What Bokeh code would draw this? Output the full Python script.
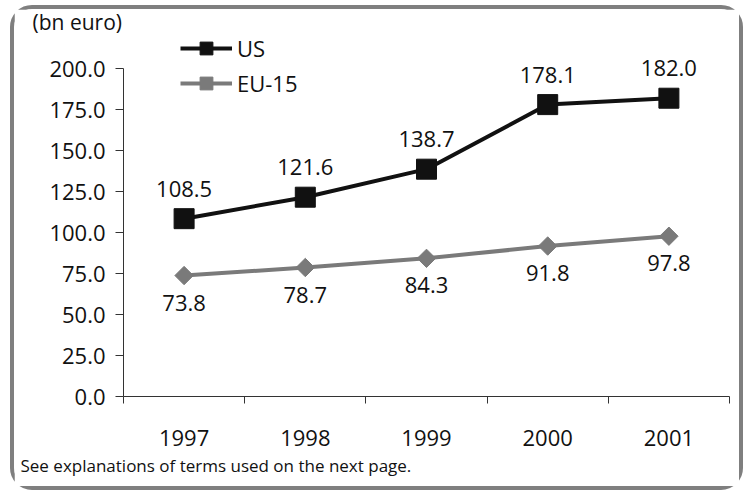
import math
from bokeh.plotting import figure
from bokeh.models import (Range1d, FixedTicker, ColumnDataSource, LabelSet,
                          Legend, LegendItem, Title)
from bokeh.core.properties import value
from bokeh.embed import file_html
from bokeh.resources import INLINE

years = ["1997", "1998", "1999", "2000", "2001"]
us = [108.5, 121.6, 138.7, 178.1, 182.0]
eu15 = [73.8, 78.7, 84.3, 91.8, 97.8]
y_ticks = [0, 25, 50, 75, 100, 125, 150, 175, 200]

FONT = "Open Sans"
FS = "22px"
US_COLOR = "#111111"
EU_COLOR = "#7a7a7a"
TXT = "#111111"

xpos = [i + 0.5 for i in range(len(years))]
src = ColumnDataSource(dict(
    x=xpos, us=us, eu=eu15,
    us_lbl=[f"{v:.1f}" for v in us],
    eu_lbl=[f"{v:.1f}" for v in eu15],
))

p = figure(width=733, height=485, output_backend="svg", toolbar_location=None,
           x_range=Range1d(0, len(years)), y_range=Range1d(0, 222.7),
           min_border_left=109, min_border_right=18, min_border_top=16,
           min_border_bottom=98,
           styles={"border": "4px solid #7f7f7f", "border-radius": "22px",
                   "margin-left": "10px", "margin-top": "5px"})
p.outline_line_color = None
p.grid.visible = False
p.title.visible = False

# axes
p.yaxis.ticker = FixedTicker(ticks=y_ticks)
p.yaxis.bounds = (y_ticks[0], y_ticks[-1])
p.yaxis.major_label_overrides = {t: f"{t:.1f}" for t in y_ticks}
p.yaxis.major_tick_out = 8
p.yaxis.major_tick_in = 0
p.yaxis.minor_tick_out = 0
p.yaxis.minor_tick_in = 0
p.yaxis.major_label_standoff = 10
p.yaxis.axis_line_color = "#333333"
p.yaxis.major_tick_line_color = "#333333"

p.xaxis.ticker = FixedTicker(ticks=xpos, minor_ticks=list(range(len(years) + 1)))
p.xaxis.major_label_overrides = {x: y for x, y in zip(xpos, years)}
p.xaxis.major_tick_out = 0
p.xaxis.major_tick_in = 0
p.xaxis.minor_tick_out = 7
p.xaxis.minor_tick_in = 0
p.xaxis.major_label_standoff = 26
p.xaxis.axis_line_color = "#333333"
p.xaxis.minor_tick_line_color = "#333333"

for ax in (p.xaxis, p.yaxis):
    ax.major_label_text_font = FONT
    ax.major_label_text_font_size = FS
    ax.major_label_text_color = TXT

# series
l_us = p.line("x", "us", source=src, line_color=US_COLOR, line_width=4)
m_us = p.scatter("x", "us", source=src, marker="square", size=20,
                 fill_color=US_COLOR, line_color=US_COLOR)
l_eu = p.line("x", "eu", source=src, line_color=EU_COLOR, line_width=4)
m_eu = p.scatter("x", "eu", source=src, marker="square", size=13, angle=math.pi / 4,
                 fill_color=EU_COLOR, line_color=EU_COLOR)

p.add_layout(LabelSet(x="x", y="us", text="us_lbl", source=src, y_offset=30,
                      text_align="center", text_baseline="middle",
                      text_font=value(FONT), text_font_size=FS, text_color=TXT))
p.add_layout(LabelSet(x="x", y="eu", text="eu_lbl", source=src, y_offset=-27,
                      text_align="center", text_baseline="middle",
                      text_font=value(FONT), text_font_size=FS, text_color=TXT))

legend = Legend(items=[LegendItem(label="US", renderers=[l_us, m_us]),
                       LegendItem(label="EU-15", renderers=[l_eu, m_eu])],
                location=(57, 297), orientation="vertical",
                glyph_width=52, glyph_height=32, label_height=20,
                label_standoff=5, spacing=3, padding=0, margin=0,
                border_line_color=None, background_fill_alpha=0,
                label_text_font=FONT, label_text_font_size=FS,
                label_text_color=TXT)
p.add_layout(legend)

p.add_layout(Title(text="(bn euro)", align="left", offset=-91, standoff=-8,
                   text_font=FONT, text_font_size="21px", text_font_style="normal",
                   text_color=TXT), "above")
p.add_layout(Title(text="See explanations of terms used on the next page.",
                   align="left", offset=-103, standoff=6,
                   text_font=FONT, text_font_size="17px", text_font_style="normal",
                   text_color=TXT), "below")

open("out.html", "w").write(file_html(p, INLINE))
